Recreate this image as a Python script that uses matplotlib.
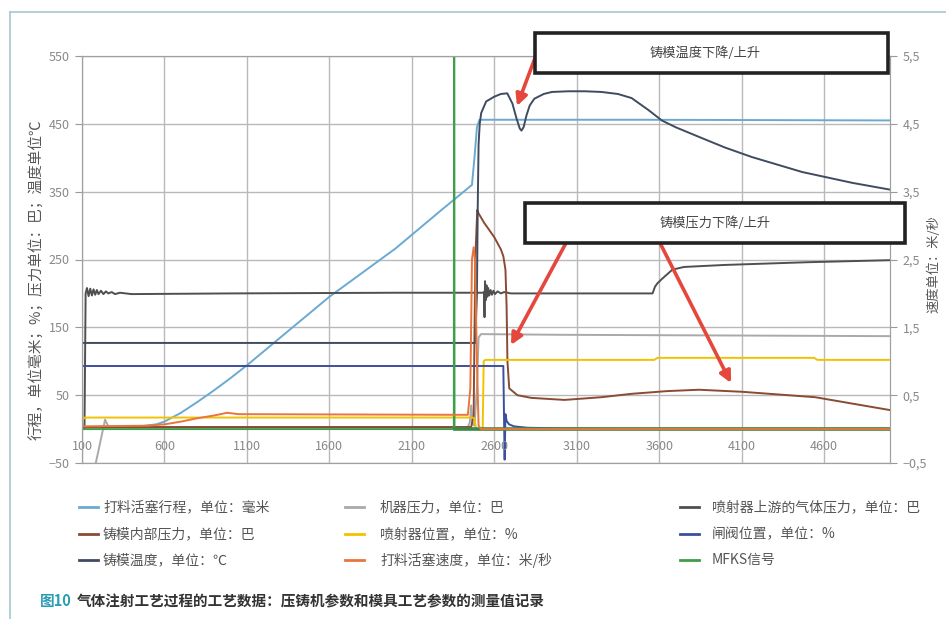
import matplotlib
matplotlib.use('Agg')
import matplotlib.pyplot as plt
from matplotlib.lines import Line2D
from matplotlib.patches import Rectangle, FancyArrowPatch

plt.rcParams['font.family'] = ['Noto Sans CJK SC', 'DejaVu Sans']

W, H = 946, 619

# ---------------- data ----------------
# 打料活塞行程, mm
stroke_t = [100, 450, 550, 600, 700, 800, 900, 1000, 1100, 1600, 2000, 2280, 2465,
            2480, 2495, 2510, 3500, 5000]
stroke_v = [3, 4, 7, 11, 24, 40, 57, 75, 94, 195, 266, 323, 360, 400, 445, 456, 456, 455]

# 机器压力, bar
mpress_t = [100, 179, 197, 240, 255, 270, 2440, 2452, 2460, 2468, 2480, 2495, 2505,
            2520, 3000, 4000, 5000]
mpress_v = [-130, -55, -35, 14, 6, 3, 3, 10, 35, 8, 5, 60, 135, 140, 139, 138, 137]

# 喷射器上游的气体压力, bar
gas_t = [100, 115, 122, 130, 140, 150, 160, 170, 180, 190, 200, 215, 230, 245, 260,
         280, 300, 330, 400, 1000, 2000, 2530, 2538, 2541, 2544, 2548, 2553, 2558,
         2563, 2570, 2578, 2586, 2595, 2605, 2620, 2640, 2660, 2700, 3560, 3575,
         3590, 3620, 3680, 3750, 4000, 4500, 5000]
gas_v = [0, 0, 200, 208, 196, 207, 197, 206, 198, 205, 199, 204, 199, 203, 200,
         202, 199, 201, 199, 200, 201, 201, 202, 165, 218, 190, 212, 195, 208, 197,
         205, 198, 204, 199, 203, 200, 202, 200, 200, 210, 215, 222, 235, 239, 242,
         246, 249]

# 铸模内部压力, bar
cavity_t = [100, 2460, 2475, 2485, 2497, 2505, 2539, 2600, 2640, 2655, 2668, 2675,
            2680, 2691, 2740, 2825, 3026, 3250, 3433, 3650, 3841, 4102, 4546, 5000]
cavity_v = [3, 3, 20, 250, 323, 318, 304, 283, 265, 255, 235, 180, 100, 60, 50, 46,
            43, 47, 52, 56, 58, 55, 47, 28]

# 喷射器位置, %
inj_t = [100, 115, 2470, 2480, 2490, 2530, 2536, 2545, 3570, 3590, 4540, 4560, 5000]
inj_v = [12, 17, 17, 15, 0, 0, 100, 102, 102, 105, 105, 102, 102]

# 闸阀位置, %
valve_t = [100, 2655, 2663, 2668, 2675, 2690, 2720, 2800, 3000, 3500, 5000]
valve_v = [93, 93, -45, 22, 12, 7, 4, 2, 1, 0.5, 0.5]

# 铸模温度, °C
temp_t = [100, 2485, 2495, 2500, 2505, 2512, 2521, 2551, 2600, 2640, 2679, 2710, 2735,
          2755, 2765, 2778, 2795, 2815, 2843, 2900, 2950, 3050, 3150, 3250, 3350,
          3433, 3537, 3616, 3700, 3859, 4000, 4163, 4467, 4771, 5000]
temp_v = [127, 127, 200, 330, 420, 450, 466, 483, 490, 494, 495, 480, 458, 443, 440,
          445, 462, 477, 487, 494, 497, 498, 498, 497, 494, 488, 470, 455, 445, 429,
          415, 401, 379, 363, 353]

# 打料活塞速度, m/s (right axis)
speed_t = [100, 500, 600, 700, 800, 900, 980, 1050, 2440, 2455, 2465, 2475, 2483,
           2495, 2505, 2520, 5000]
speed_v = [0.04, 0.05, 0.07, 0.11, 0.16, 0.20, 0.24, 0.22, 0.21, 0.6, 2.5, 2.68, 2.5,
           1.0, 0.05, 0.0, 0.0]

# MFKS信号
mfks_t = [100, 2355, 2356, 2358, 2359, 5000]
mfks_v = [0, 0, 550, 550, 0, 0]

x_ticks = [100, 600, 1100, 1600, 2100, 2600, 3100, 3600, 4100, 4600]
y_ticks = [-50, 50, 150, 250, 350, 450, 550]
y2_ticks = [-0.5, 0.5, 1.5, 2.5, 3.5, 4.5, 5.5]

labels = ['打料活塞行程，单位：毫米', '机器压力，单位：巴', '喷射器上游的气体压力，单位：巴',
          '铸模内部压力，单位：巴', '喷射器位置，单位：%', '闸阀位置，单位：%',
          '铸模温度，单位：℃', '打料活塞速度，单位：米/秒', 'MFKS信号']
colors = ['#6aaad2', '#a9a9a9', '#4f4f4f',
          '#8a4a33', '#f2c200', '#3c4f9c',
          '#3f4b5f', '#e8763c', '#3f9e4a']

# ---------------- figure ----------------
fig = plt.figure(figsize=(W / 100, H / 100), dpi=100)
ax = fig.add_axes([82 / W, 1 - 463 / H, 808 / W, 407 / H])
ax.set_xlim(100, 5000)
ax.set_ylim(-50, 550)
ax.set_axisbelow(True)
ax.grid(True, color='#b9b9b9', lw=1.0)
ax.set_xticks(x_ticks)
ax.set_yticks(y_ticks)
ax.set_yticklabels([str(v).replace('-', '−') for v in y_ticks])
ax.tick_params(axis='x', length=0, labelbottom=False)
ax.tick_params(axis='y', length=5, color='#999999', labelcolor='#888888', labelsize=9, pad=4)
for s in ax.spines.values():
    s.set_color('#a0a0a0')

for t in x_ticks:
    ax.text(t, -25, str(t), ha='center', va='center', fontsize=9, color='#888888')

series = [(stroke_t, stroke_v, 0), (mpress_t, mpress_v, 1), (gas_t, gas_v, 2),
          (cavity_t, cavity_v, 3), (inj_t, inj_v, 4), (valve_t, valve_v, 5),
          (temp_t, temp_v, 6)]
for t, v, i in series:
    ax.plot(t, v, color=colors[i], lw=1.4)
ax.plot(mfks_t, mfks_v, color=colors[8], lw=1.4)
ax.plot(mfks_t[4:], mfks_v[4:], color='#3a8a45', lw=2.6)

ax2 = ax.twinx()
ax2.set_ylim(-0.5, 5.5)
ax2.set_yticks(y2_ticks)
ax2.set_yticklabels([f'{v:.1f}'.replace('.', ',').replace('-', '−') for v in y2_ticks])
ax2.tick_params(axis='y', length=5, color='#999999', labelcolor='#888888', labelsize=9, pad=4)
for s in ax2.spines.values():
    s.set_color('#a0a0a0')
ax2.plot(speed_t, speed_v, color=colors[7], lw=1.4)

ax.set_ylabel('行程，单位毫米；%；压力单位：巴；温度单位℃', fontsize=10.5, color='#555555')
ax.yaxis.set_label_coords(-0.046, 0.45)
ax2.set_ylabel('速度单位：米/秒', fontsize=9.5, color='#555555', rotation=90)
ax2.yaxis.set_label_coords(1.046, 0.49)

# annotation boxes and arrows
red = '#e5473d'
arrows = [((535, 58), (517, 106)), ((566, 243), (511, 345)), ((660, 243), (731, 383))]
for (x0, y0), (x1, y1) in arrows:
    fig.add_artist(FancyArrowPatch((x0 / W, 1 - y0 / H), (x1 / W, 1 - y1 / H),
                                   transform=fig.transFigure, arrowstyle='-|>',
                                   mutation_scale=17, lw=2.6, color=red,
                                   shrinkA=0, shrinkB=0, zorder=4))
boxes = [(535, 33, 888, 73, '铸模温度下降/上升', 705),
         (525, 203, 905, 243, '铸模压力下降/上升', 715)]
for x0, y0, x1, y1, txt, tx in boxes:
    fig.add_artist(Rectangle((x0 / W, 1 - y1 / H), (x1 - x0) / W, (y1 - y0) / H,
                             transform=fig.transFigure, facecolor='white',
                             edgecolor='#222222', lw=2.6, zorder=5))
    fig.text(tx / W, 1 - ((y0 + y1) / 2) / H, txt, ha='center', va='center',
             fontsize=9.5, color='#444444', zorder=6)

# legend, laid out by hand in three columns
col_line = [79, 345, 680]
col_text = [103, 380, 712]
row_y = [507, 534, 560]
for i, (lab, col) in enumerate(zip(labels, colors)):
    r, c = divmod(i, 3)
    y = 1 - row_y[r] / H
    fig.add_artist(Line2D([col_line[c] / W, (col_line[c] + 19) / W], [y, y],
                          transform=fig.transFigure, color=col, lw=2))
    fig.text(col_text[c] / W, y, lab, ha='left', va='center', fontsize=10, color='#555555')

# caption and frame
fig.text(40 / W, 1 - 601 / H, '图10', ha='left', va='center', fontsize=10.5,
         color='#2a9db3', fontweight='bold')
fig.text(77 / W, 1 - 601 / H, '气体注射工艺过程的工艺数据：压铸机参数和模具工艺参数的测量值记录',
         ha='left', va='center', fontsize=10.5, color='#333333', fontweight='bold')
fig.add_artist(Line2D([10 / W, 1], [1 - 12 / H, 1 - 12 / H], transform=fig.transFigure,
                      color='#a3c9cf', lw=1.2))
fig.add_artist(Line2D([10 / W, 10 / W], [0, 1 - 12 / H], transform=fig.transFigure,
                      color='#a3c9cf', lw=1.2))

fig.savefig('out.png', dpi=100)
